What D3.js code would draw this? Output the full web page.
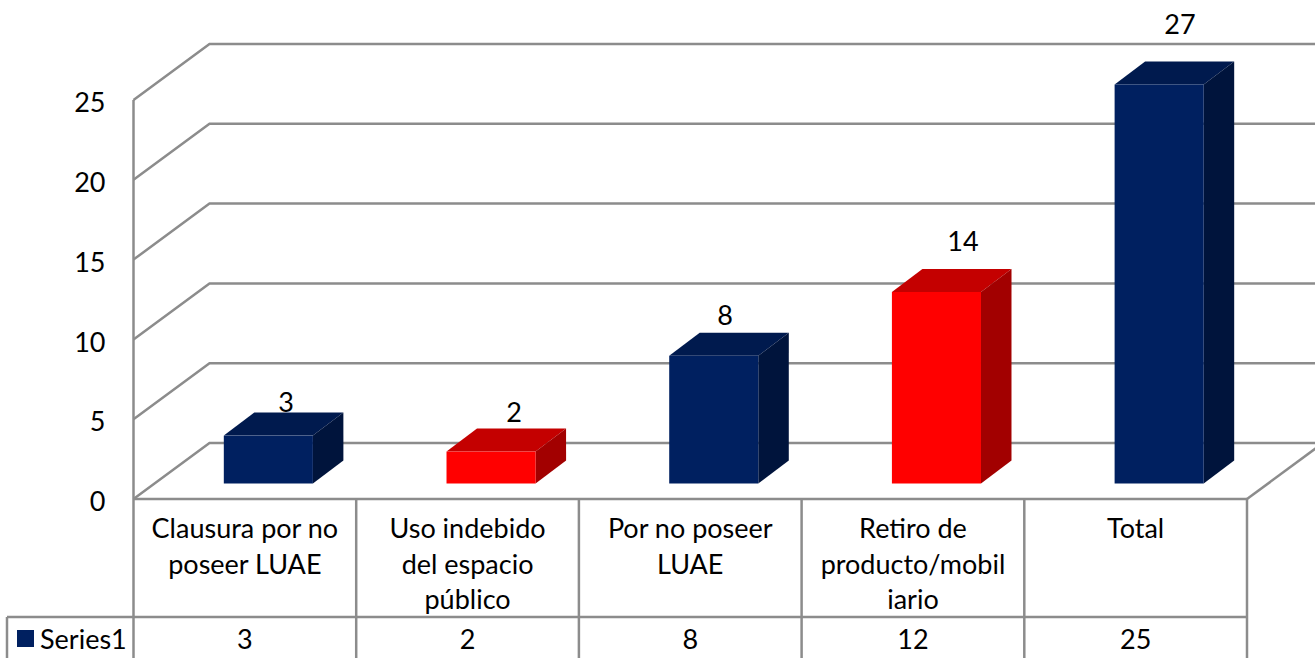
<!DOCTYPE html>
<html>
<head>
<meta charset="utf-8">
<script src="https://cdn.jsdelivr.net/npm/d3@7"></script>
<style>
  html, body { margin: 0; padding: 0; background: #fff; overflow: hidden; }
  svg { display: block; }
  text { font-family: Lato, "Open Sans", sans-serif; font-size: 27px; fill: #000; }
</style>
</head>
<body>
<div id="chart"></div>
<script>
// Values
var categories = ["Clausura por no poseer LUAE", "Uso indebido del espacio público", "Por no poseer LUAE", "Retiro de producto/mobiliario", "Total"];
var categoryLines = [["Clausura por no", "poseer LUAE"], ["Uso indebido", "del espacio", "público"], ["Por no poseer", "LUAE"], ["Retiro de", "producto/mobil", "iario"], ["Total"]];
var seriesName = "Series1";
var barValues = [3, 2, 8, 12, 25];
var barLabels = [3, 2, 8, 14, 27];
var barColors = ["navy", "red", "navy", "red", "navy"];
var yTicks = [0, 5, 10, 15, 20, 25];

var width = 1315, height = 658;
var lineColor = "#8c8c8c";
var shades = {
    navy: { front: "#002060", top: "#001a4e", side: "#00143c" },
    red: { front: "#ff0000", top: "#c40000", side: "#a20000" }
};

// Plot box, front edge of the floor
var left = 133.5, right = 1247, floorY = 499, top25 = 100;
var tableY = 617, legendX = 7;
var wallDx = 76, wallDy = -56;   // depth of the 3D walls
var barDx = 23.5, barDy = -15.5; // bars stand a little back from the front edge
var depthDx = 30.5, depthDy = -23; // depth of each bar

var svg = d3.select("#chart").append("svg").attr("width", width).attr("height", height);

var x = d3.scaleBand().domain(categories).range([left, right]).paddingInner(0.6).paddingOuter(0.3);
var y = d3.scaleLinear().domain([0, 25]).range([floorY, top25]);

// Walls and gridlines
var grid = svg.append("g").attr("fill", "none").attr("stroke", lineColor).attr("stroke-width", 2.5);
yTicks.forEach(function(t){
    grid.append("polyline").attr("points", [
        [left, y(t)],
        [left + wallDx, y(t) + wallDy],
        [width + 10, y(t) + wallDy]
    ].join(" "));
});
grid.append("line").attr("x1", left).attr("x2", left).attr("y1", y(25)).attr("y2", floorY);
grid.append("line").attr("x1", left).attr("x2", right).attr("y1", floorY).attr("y2", floorY);
grid.append("line").attr("x1", right).attr("y1", floorY)
    .attr("x2", right + wallDx).attr("y2", floorY + wallDy);

// Data table lines
var band = (right - left) / categories.length;
var table = svg.append("g").attr("fill", "none").attr("stroke", lineColor).attr("stroke-width", 2.5);
d3.range(categories.length + 1).forEach(function(i){
    table.append("line").attr("x1", left + i * band).attr("x2", left + i * band)
         .attr("y1", floorY).attr("y2", height);
});
table.append("line").attr("x1", legendX).attr("x2", right).attr("y1", tableY).attr("y2", tableY);
table.append("line").attr("x1", legendX).attr("x2", legendX).attr("y1", tableY).attr("y2", height);

// Y axis labels
var axis = svg.append("g").attr("transform", "translate(" + (left - 28) + ",3)")
    .call(d3.axisLeft(y).tickValues(yTicks).tickSize(0).tickPadding(0));
axis.select(".domain").remove();
axis.selectAll("text").style("font-size", "27px").style("font-family", "Lato").attr("fill", "#000");

// Data labels go under the bars, the "3" is slightly cut in the original
var labels = [[286, 403], [514, 413], [725, 316], [963, 242], [1180, 25]];
svg.append("g").selectAll("text").data(barLabels).join("text")
    .attr("x", function(d, i){ return labels[i][0]; })
    .attr("y", function(d, i){ return labels[i][1]; })
    .attr("dy", "0.35em")
    .attr("text-anchor", "middle")
    .text(function(d){ return d; });

// Bars
var bars = svg.append("g").selectAll("g").data(barValues).join("g");

function barBox(d, i){
    var x0 = x(categories[i]) + barDx;
    return { x0: x0, x1: x0 + x.bandwidth(), y0: y(d) + barDy, y1: floorY + barDy };
}

bars.append("polygon")
    .attr("fill", function(d, i){ return shades[barColors[i]].top; })
    .attr("points", function(d, i){
        var b = barBox(d, i);
        return [[b.x0, b.y0], [b.x0 + depthDx, b.y0 + depthDy], [b.x1 + depthDx, b.y0 + depthDy], [b.x1, b.y0]].join(" ");
    });
bars.append("polygon")
    .attr("fill", function(d, i){ return shades[barColors[i]].side; })
    .attr("points", function(d, i){
        var b = barBox(d, i);
        return [[b.x1, b.y0], [b.x1 + depthDx, b.y0 + depthDy], [b.x1 + depthDx, b.y1 + depthDy], [b.x1, b.y1]].join(" ");
    });
bars.append("rect")
    .attr("fill", function(d, i){ return shades[barColors[i]].front; })
    .attr("x", function(d, i){ return barBox(d, i).x0; })
    .attr("y", function(d, i){ return barBox(d, i).y0; })
    .attr("width", x.bandwidth())
    .attr("height", function(d, i){ var b = barBox(d, i); return b.y1 - b.y0; });

// Table text
var lineHeight = 35.5;
categoryLines.forEach(function(lines, i){
    var cx = left + (i + 0.5) * band;
    lines.forEach(function(line, j){
        svg.append("text").attr("x", cx).attr("y", 529 + j * lineHeight).attr("dy", "0.35em")
           .attr("text-anchor", "middle").text(line);
    });
});
svg.append("g").selectAll("text").data(barValues).join("text")
    .attr("x", function(d, i){ return left + (i + 0.5) * band; })
    .attr("y", 640).attr("dy", "0.35em")
    .attr("text-anchor", "middle")
    .text(function(d){ return d; });

// Legend
svg.append("rect").attr("x", 17).attr("y", 630).attr("width", 17).attr("height", 17).attr("fill", shades.navy.front);
svg.append("text").attr("x", 40).attr("y", 640).attr("dy", "0.35em").text(seriesName);
</script>
</body>
</html>
